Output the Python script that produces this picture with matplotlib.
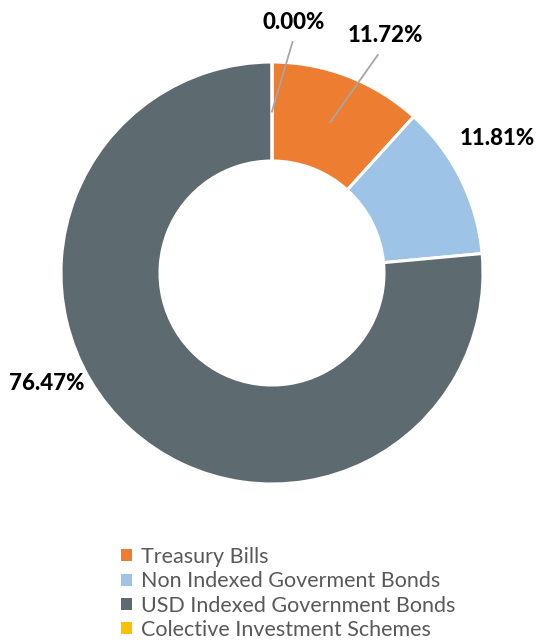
import numpy as np
import matplotlib
matplotlib.use("Agg")
import matplotlib.pyplot as plt
from matplotlib.patches import Patch

# portfolio split, clockwise from 12 o'clock
categories = ["Treasury Bills", "Non Indexed Goverment Bonds",
              "USD Indexed Government Bonds", "Colective Investment Schemes"]
shares = [11.72, 11.81, 76.47, 0.00]
colors = ["#ED7D31", "#9DC3E6", "#5D6B70", "#FFC000"]

# label placement (offset from centre, in px) and whether a leader line is drawn
label_offsets = [(113, 238), (225, 135), (-225, -110), (22, 251)]
has_leader = [True, False, False, True]

W, H = 540, 644
CX, CY = 272, H - 273
R_OUT, R_IN = 211, 112

plt.rcParams["font.family"] = ["Lato", "DejaVu Sans"]

fig = plt.figure(figsize=(W / 100, H / 100), dpi=100)
ax = fig.add_axes([0, 0, 1, 1])

wedges, _ = ax.pie(shares, colors=colors, startangle=90, counterclock=False,
                   center=(CX, CY), radius=R_OUT,
                   wedgeprops=dict(width=R_OUT - R_IN, edgecolor="white", linewidth=2.2))

# pie() resets the limits, so fix them afterwards
ax.set_xlim(0, W)
ax.set_ylim(0, H)
ax.set_aspect("equal")
ax.axis("off")

r_mid = (R_OUT + R_IN) / 2
for w, val, (dx, dy), lead in zip(wedges, shares, label_offsets, has_leader):
    ang = np.deg2rad((w.theta1 + w.theta2) / 2)
    tx, ty = CX + dx, CY + dy
    ax.text(tx, ty, f"{val:.2f}%", ha="center", va="center",
            fontsize=16, fontweight=900, color="black")
    if lead:
        sx, sy = CX + r_mid * np.cos(ang), CY + r_mid * np.sin(ang)
        # stop the line just below the label
        ex, ey = tx - 0.28 * dx / np.hypot(dx, dy) * 60, ty - 20
        ax.plot([sx, ex], [sy, ey], color="#A6A6A6", lw=1.3)

handles = [Patch(facecolor=c, edgecolor="none") for c in colors]
fig.legend(handles, categories, loc="upper left", bbox_to_anchor=(121 / W, 1 - 547 / H),
           frameon=False, fontsize=15.5, labelcolor="#595959",
           handlelength=0.5, handleheight=0.5, handletextpad=0.45, labelspacing=0.2,
           borderpad=0, borderaxespad=0)

fig.savefig("out.png", dpi=100)
